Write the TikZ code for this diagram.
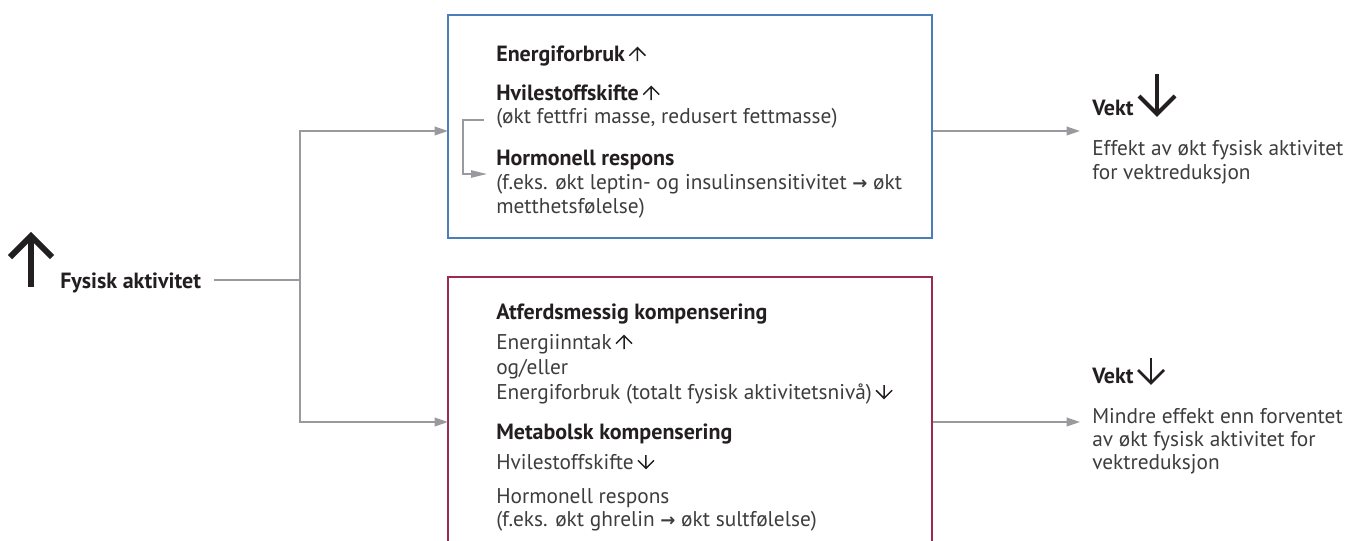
\documentclass[tikz,border=0pt]{standalone}
\usepackage{fontspec}
\setmainfont{PT Sans}
\newfontfamily\arrowfont{DejaVu Sans}
\usetikzlibrary{arrows.meta,positioning}
\definecolor{inkdark}{HTML}{231F20}
\definecolor{inkbody}{HTML}{3D3D3D}
\definecolor{linegray}{HTML}{9A9A9E}
\definecolor{boxblue}{HTML}{4A7EB8}
\definecolor{boxred}{HTML}{9E2A4F}
% small chevron arrows set inline with the text
\newcommand{\uparr}{\tikz[baseline=0pt]\draw[inkdark, line width=1.1pt, miter limit=10]
    (0pt,0pt) -- (0pt,10pt) (-6pt,4pt) -- (0pt,10pt) -- (6pt,4pt);}
\newcommand{\downarr}{\tikz[baseline=0pt]\draw[inkdark, line width=1.1pt, miter limit=10]
    (0pt,10.5pt) -- (0pt,0.5pt) (-6pt,6.5pt) -- (0pt,0.5pt) -- (6pt,6.5pt);}
\newcommand{\rarr}{{\arrowfont\bfseries\fontsize{13.5}{13.5}\selectfont →}}
\tikzset{
     headtext/.style={font=\fontsize{16.5}{18}\selectfont\bfseries, text=inkdark, anchor=base west, inner sep=0pt},
     bodytext/.style={font=\fontsize{16}{18}\selectfont, text=inkbody, anchor=base west, inner sep=0pt, align=left},
     flowline/.style={linegray, line width=1.1pt, -{Triangle[length=10pt,width=6.5pt]}},
     plainline/.style={linegray, line width=1.1pt},
     framebox/.style={draw=#1, line width=1.5pt, minimum width=363pt},
     bigarrow/.style={inkdark, line cap=butt, miter limit=10},
    }

\begin{document}
\begin{tikzpicture}[x=0.75pt,y=-0.75pt]
    \useasboundingbox (0,0) rectangle (1359,540);

    % left
    \draw[bigarrow, line width=4.5pt] (31,287) -- (31,240);
    \draw[bigarrow, line width=4.5pt] (10,257) -- (31,236) -- (52,257);
    \node[headtext] (fysisk) at (60,288) {Fysisk aktivitet};

    % boxes
    \node[framebox=boxblue, minimum height=167.25pt] (box1) at (690,126.5) {};
    \node[framebox=boxred, minimum height=213pt] (box2) at (690,419) {};

    % multi-line nodes are placed by the baseline of their last line
    \node[headtext] (energi)  at (496,61)  {Energiforbruk\,\uparr};
    \node[headtext] (hvile)   at (496,100) {Hvilestoffskifte\,\uparr};
    \node[bodytext] (hvileb)  at (496,123) {(økt fettfri masse, redusert fettmasse)};
    \node[headtext] (hormon)  at (496,165) {Hormonell respons};
    \node[bodytext] (hormonb) at (496,213) {(f.eks. økt leptin- og insulinsensitivitet \rarr{} økt\\metthetsfølelse)};

    \node[headtext] (atferd)  at (496,319) {Atferdsmessig kompensering};
    \node[bodytext, font=\fontsize{16}{18.75}\selectfont] (atferdb) at (496,399)
        {Energiinntak\,\uparr\\og/eller\\Energiforbruk (totalt fysisk aktivitetsnivå)\,\downarr};
    \node[headtext] (metab)   at (496,439) {Metabolsk kompensering};
    \node[bodytext] (metabb)  at (496,469) {Hvilestoffskifte\,\downarr};
    \node[bodytext, font=\fontsize{16}{17}\selectfont] (metabc) at (496,526)
        {Hormonell respons\\(f.eks. økt ghrelin \rarr{} økt sultfølelse)};

    % right
    \node[headtext] (vekt1) at (1092,115) {Vekt};
    \draw[bigarrow, line width=3pt] (1157,74) -- (1157,111);
    \draw[bigarrow, line width=3pt] (1139,96) -- (1157,114) -- (1175,96);
    \node[bodytext] (effekt1) at (1092,179)
        {Effekt av økt fysisk aktivitet\\for vektreduksjon};

    \node[headtext] (vekt2) at (1092,383) {Vekt};
    \draw[bigarrow, line width=2pt] (1151,358) -- (1151,381);
    \draw[bigarrow, line width=2pt] (1138,370) -- (1151,383) -- (1164,370);
    \node[bodytext, font=\fontsize{16}{17.25}\selectfont] (effekt2) at (1092,469)
        {Mindre effekt enn forventet\\av økt fysisk aktivitet for\\vektreduksjon};

    % connectors
    \coordinate (split) at (300,280);
    \coordinate (in1) at (448,131);
    \coordinate (in2) at (448,422);
    \coordinate (tip1) at (1080,131);
    \coordinate (tip2) at (1080,422);
    \coordinate (brtop) at (484,120);
    \coordinate (brbot) at (487,174);

    \draw[plainline, shorten <=9.75pt] (fysisk.east |- split) -- (split);
    \draw[flowline] (split) |- (in1);
    \draw[flowline] (split) |- (in2);
    \draw[flowline] (box1.east |- in1) -- (tip1);
    \draw[flowline] (box2.east |- in2) -- (tip2);
    \draw[plainline, -{Triangle[length=12pt,width=5.5pt]}] (brtop) -| (463,147) |- (brbot);
\end{tikzpicture}
\end{document}
